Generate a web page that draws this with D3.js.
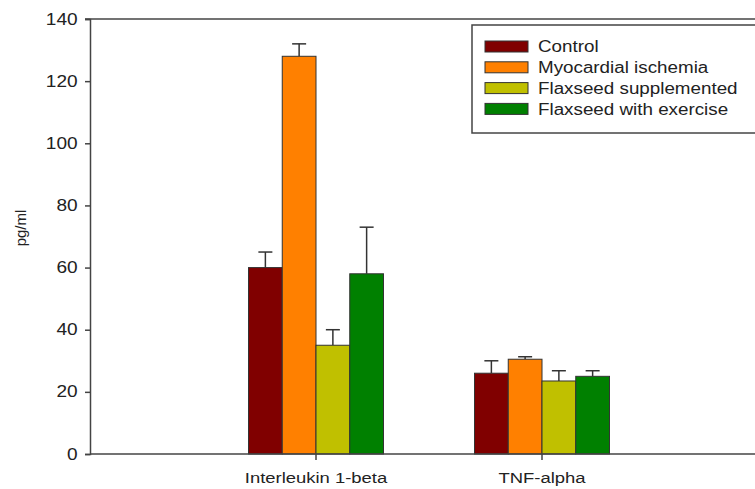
<!DOCTYPE html>
<html><head><meta charset="utf-8">
<script src="https://cdn.jsdelivr.net/npm/d3@7"></script>
<style>body{margin:0;background:#fff}svg{display:block}text{font-family:"Liberation Sans",Arial,sans-serif;fill:#222}</style>
</head><body><svg id="c" width="755" height="489"></svg>
<script>
const categories = ["Interleukin 1-beta", "TNF-alpha"];
const seriesNames = ["Control", "Myocardial ischemia", "Flaxseed supplemented", "Flaxseed with exercise"];
const controlVals = [60, 26];
const ischemiaVals = [128, 30.5];
const flaxVals = [35, 23.5];
const flaxExVals = [58, 25];
const controlErr = [5, 4];
const ischemiaErr = [4, 0.8];
const flaxErr = [5, 3.3];
const flaxExErr = [15, 1.8];
const colors = ["#800000", "#FF8000", "#C0C000", "#008000"];
const yTicks = [0, 20, 40, 60, 80, 100, 120, 140];

const values = [controlVals, ischemiaVals, flaxVals, flaxExVals];
const errs = [controlErr, ischemiaErr, flaxErr, flaxExErr];
const SX = 1.19;

const svg = d3.select("#c");
const y = d3.scaleLinear().domain([0, 140]).range([454, 19]);
const x = d3.scaleBand().domain(categories).range([203, 655]);
const xs = d3.scaleBand().domain(seriesNames).range([-67.5, 67.5]);

// bars
const data = [];
categories.forEach((c, ci) => seriesNames.forEach((s, si) => data.push({c, s, v: values[si][ci], e: errs[si][ci], col: colors[si]})));
const g = svg.append("g");
data.forEach(d => {
  const cx = x(d.c) + x.bandwidth() / 2 + xs(d.s);
  const bx = cx + xs.bandwidth() / 2;
  g.append("line").attr("x1", bx).attr("x2", bx).attr("y1", y(d.v)).attr("y2", y(d.v + d.e)).attr("stroke", "#333").attr("stroke-width", 1.5);
  g.append("line").attr("x1", bx - 7).attr("x2", bx + 7).attr("y1", y(d.v + d.e)).attr("y2", y(d.v + d.e)).attr("stroke", "#333").attr("stroke-width", 1.5);
  g.append("rect").attr("x", cx).attr("y", y(d.v)).attr("width", xs.bandwidth()).attr("height", y(0) - y(d.v))
    .attr("fill", d.col).attr("stroke", "#333").attr("stroke-width", 1);
});

// y axis
const ya = svg.append("g").attr("transform", "translate(90,0)").call(d3.axisLeft(y).tickValues(yTicks).tickSize(5).tickPadding(4));
ya.select(".domain").attr("stroke", "#444").attr("stroke-width", 1.5);
ya.selectAll(".tick line").attr("stroke", "#444").attr("stroke-width", 1.5);
ya.selectAll(".tick text").attr("font-size", 16).attr("fill", "#222")
  .attr("transform", function(){ const xx = +d3.select(this).attr("x"); return `translate(${xx*(SX-1)},0) scale(${SX},1)`; });

// x axis
svg.append("line").attr("x1", 90).attr("x2", 755).attr("y1", y(0)).attr("y2", y(0)).attr("stroke", "#444").attr("stroke-width", 1.5);
svg.append("line").attr("x1", 85).attr("x2", 755).attr("y1", y(140)).attr("y2", y(140)).attr("stroke", "#444").attr("stroke-width", 1.5);
const xa = svg.append("g").attr("transform", `translate(0,${y(0)})`).call(d3.axisBottom(x).tickSize(6).tickPadding(12));
xa.select(".domain").remove();
xa.selectAll(".tick line").attr("stroke", "#444").attr("stroke-width", 1.5);
xa.selectAll(".tick text").attr("font-size", 15.5).attr("fill", "#222").attr("dy", "0.71em")
  .attr("transform", function(){ const yy = +d3.select(this).attr("y"); return `translate(0,${yy}) scale(${SX},1) translate(0,${-yy})`; });

// y label
svg.append("text").attr("transform", "translate(26,228) rotate(-90)").attr("text-anchor", "middle").attr("font-size", 15).text("pg/ml");

// legend
const lg = svg.append("g");
lg.append("rect").attr("x", 472).attr("y", 25).attr("width", 300).attr("height", 108).attr("fill", "#fff").attr("stroke", "#444").attr("stroke-width", 1.5);
seriesNames.forEach((s, i) => {
  const cy = 46.5 + i * 20.8;
  lg.append("rect").attr("x", 485).attr("y", cy - 5.5).attr("width", 43).attr("height", 11).attr("fill", colors[i]).attr("stroke", "#333").attr("stroke-width", 1);
  lg.append("text").attr("transform", `translate(538,${cy}) scale(${SX},1)`).attr("dy", "0.36em").attr("font-size", 15.8).text(s);
});
</script></body></html>
